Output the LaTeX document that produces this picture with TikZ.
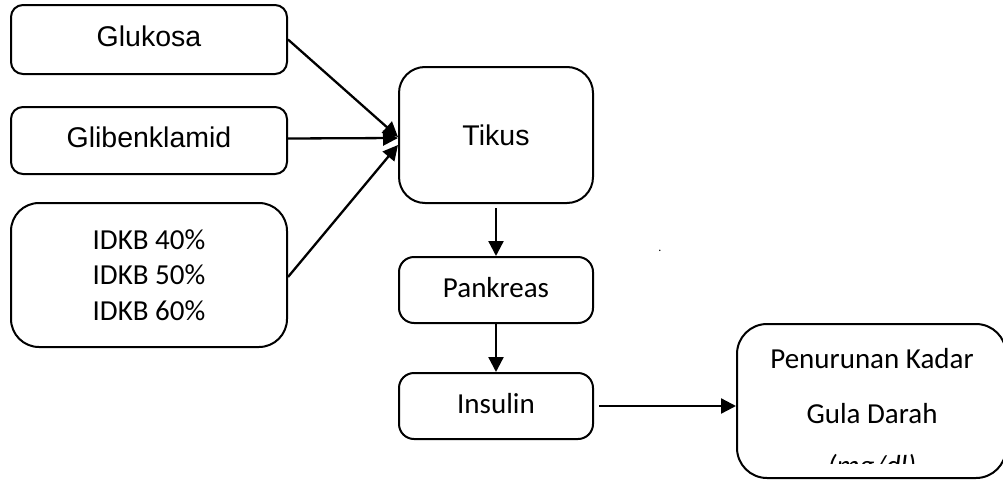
\documentclass[tikz,border=0pt]{standalone}
\usepackage{fontspec}
\setmainfont{Carlito}
\newfontfamily\arialfont{Liberation Sans}
\usetikzlibrary{arrows.meta}

\tikzset{
  kotak/.style={draw, line width=2pt, inner sep=0pt},
  kecil/.style={kotak, minimum width=276pt, rounded corners=12pt,
    font=\arialfont\fontsize{28.5}{34}\selectfont, text height=13pt, text depth=0pt},
  organ/.style={kotak, minimum width=194pt, minimum height=66pt, rounded corners=15pt,
    font=\fontsize{29}{36}\selectfont, text height=14pt, text depth=0pt},
  isi/.style={font=\fontsize{29}{35.5}\selectfont},
  panah/.style={line width=2.3pt, -{Triangle[length=15pt,width=15pt]}}
}

\begin{document}
\begin{tikzpicture}[x=1pt, y=-1pt]
\useasboundingbox (0,0) rectangle (1003,479);

% perlakuan
\node[kecil, minimum height=69pt] (glukosa) at (149,39.5) {Glukosa};
\node[kecil, minimum height=67pt] (gliben) at (149,140.5) {Glibenklamid};
\node[kotak, isi, minimum width=276pt, minimum height=144pt, rounded corners=28pt,
  align=center] (idkb) at (149,275) {IDKB 40\%\\IDKB 50\%\\IDKB 60\%};

% hewan uji
\node[kotak, minimum width=194pt, minimum height=136pt, rounded corners=26pt,
  font=\arialfont\fontsize{28.5}{34}\selectfont, text height=20pt, text depth=0pt]
  (tikus) at (496,135) {Tikus};
\node[organ] (pankreas) at (496,290) {Pankreas};
\node[organ] (insulin) at (496,406) {Insulin};

% hasil
\node[kotak, minimum width=269pt, minimum height=154pt, rounded corners=30pt]
  (hasil) at (871.5,401) {};
\begin{scope}
\clip (737,324) rectangle (1003,463);
\node[isi, inner sep=0pt, anchor=base] (pen) at (872,368) {Penurunan Kadar};
\node[isi, inner sep=0pt, anchor=base] (gula) at (872,423) {Gula Darah};
\node[isi, inner sep=0pt, anchor=base] (mgdl) at (872,475) {\itshape (mg/dl)};
\end{scope}

\node[inner sep=0pt, anchor=base, font=\fontsize{12}{12}\selectfont] (titik) at (660,251.5) {.};

\draw[panah] (glukosa.east) -- ([yshift=-2pt]tikus.west);
\draw[panah] ([yshift=2pt]gliben.east) -- ([yshift=-3pt]tikus.west);
\draw[panah] ([yshift=-2pt]idkb.east) -- ([yshift=-10pt]tikus.west);
\draw[panah] ([yshift=-4pt]tikus.south) -- (pankreas.north);
\draw[panah] (pankreas.south) -- (insulin.north);
\draw[panah] ([xshift=5pt]insulin.east) -- (insulin.east -| hasil.west);
\end{tikzpicture}
\end{document}
